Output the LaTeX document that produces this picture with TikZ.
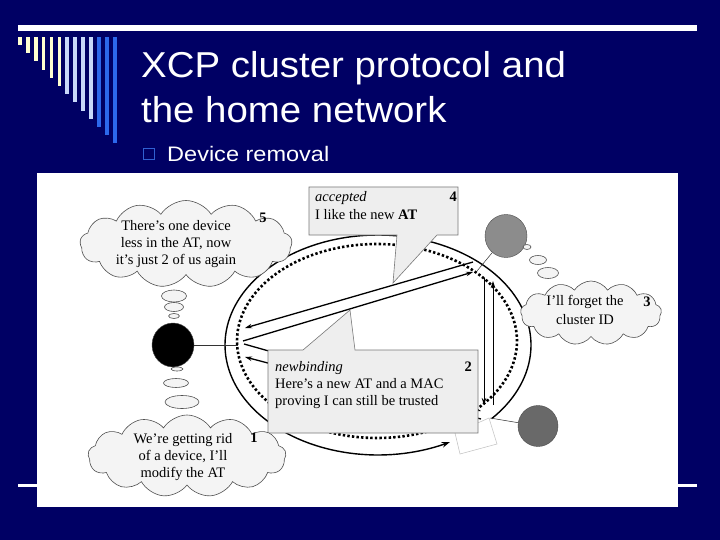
\documentclass[tikz,border=0pt]{standalone}
\usepackage{graphicx}
\usepackage{fontspec}
\setmainfont{Liberation Serif}
\newfontfamily\titlefont{Liberation Sans}
\usetikzlibrary{shapes.symbols,shapes.geometric,arrows.meta}
\definecolor{slidebg}{RGB}{0,0,100}
\definecolor{cream}{RGB}{255,255,208}
\definecolor{paleblue}{RGB}{200,216,250}
\definecolor{barblue}{RGB}{44,104,236}
\definecolor{bulletblue}{RGB}{48,96,210}
\definecolor{cloudfill}{RGB}{244,244,244}
\definecolor{cloudline}{RGB}{80,80,80}
\definecolor{boxfill}{RGB}{238,238,238}
\definecolor{boxline}{RGB}{120,120,120}
\definecolor{grayup}{RGB}{140,140,140}
\definecolor{graylow}{RGB}{105,105,105}
\begin{document}
\begin{tikzpicture}[x=1pt,y=-1pt,
  txt/.style={font=\fontsize{14.5}{17}\selectfont, inner sep=0pt},
  num/.style={font=\fontsize{14.5}{17}\selectfont\bfseries, inner sep=0pt},
  thought/.style={cloud, cloud puffs=13, cloud puff arc=115, cloud ignores aspect, draw=cloudline, fill=cloudfill, line width=0.6pt, inner sep=0pt},
  bubble/.style={ellipse, draw=cloudline, fill=cloudfill, line width=0.6pt, inner sep=0pt},
  callout/.style={draw=boxline, fill=boxfill, line width=0.6pt},
  msg/.style={line width=1.3pt, -{Stealth[length=7pt,width=4.5pt]}},
  link/.style={line width=0.5pt, draw=black!80},
  device/.style={ellipse, inner sep=0pt, draw=black!70, line width=0.4pt},
  ring/.style={line width=1.4pt},
  dots/.style={line width=2.6pt, dash pattern=on 2.4pt off 2.2pt}
]
\useasboundingbox (0,0) rectangle (720,540);
% slide template
\fill[slidebg] (0,0) rectangle (720,540);
\fill[white] (18,25) rectangle (697,31);
\foreach \i/\c in {0/cream,1/cream,2/cream,3/cream,4/cream,5/cream,6/paleblue,7/paleblue,8/paleblue,9/paleblue,10/barblue,11/barblue,12/barblue}
  \fill[\c] ({18+7.9*\i},37) rectangle ({21.7+7.9*\i},{45+8.2*\i});
\node[anchor=base west, inner sep=0pt, text=white, font=\titlefont\fontsize{36}{43}\selectfont] (t1) at (141,77.5) {\scalebox{1.067}[1]{XCP cluster protocol and}};
\node[anchor=base west, inner sep=0pt, text=white, font=\titlefont\fontsize{36}{43}\selectfont] (t2) at (141,122.5) {\scalebox{1.067}[1]{the home network}};
\node[draw=bulletblue, line width=1.6pt, minimum size=11pt, inner sep=0pt] (bul) at (149,154) {};
\node[anchor=base west, inner sep=0pt, text=white, font=\titlefont\fontsize{21}{25}\selectfont] (sub) at (167,161.5) {\scalebox{1.12}[1]{Device removal}};
\fill[white] (18,484) rectangle (697,486.5);
% diagram area
\fill[white] (37,173) rectangle (678,507);

% faded removed device
\draw[black!25, line width=0.5pt] (455,433) -- (460,454) -- (497,444) -- (489,418) -- cycle;

% rings
\draw[ring, {Stealth[length=8pt,width=5.5pt]}-] plot[domain=-298:42, samples=150] ({378+153*cos(\x)},{345+110*sin(\x)});
\draw[dots] plot[domain=-293:43, samples=150] ({377+140*cos(\x)},{341+97*sin(\x)});

% message coordinates
\coordinate (m1s) at (473,262); \coordinate (m1e) at (245,328);
\coordinate (m2s) at (243,341); \coordinate (m2e) at (473,272);
\coordinate (m3s) at (244,344); \coordinate (m3e) at (481,411);
\coordinate (m4s) at (481,419); \coordinate (m4e) at (245,357);
\coordinate (v1s) at (484,278); \coordinate (v1e) at (484,405);
\coordinate (v2s) at (493,405); \coordinate (v2e) at (493,281);
\draw[msg] (m1s) -- (m1e);
\draw[msg] (m2s) -- (m2e);
\draw[msg] (m3s) -- (m3e);
\draw[msg] (m4s) -- (m4e);
\draw[msg, line width=0.9pt] (v1s) -- (v1e);
\draw[msg, line width=0.9pt] (v2s) -- (v2e);

% devices
\node[device, fill=black, minimum width=42pt, minimum height=44pt] (blk) at (173,345) {};
\node[device, fill=grayup, minimum width=42pt, minimum height=43pt] (up) at (506,236) {};
\node[device, fill=graylow, minimum width=40pt, minimum height=41pt] (low) at (538,426) {};
\coordinate (bJ) at (238,345);
\coordinate (uJ) at (477,271);
\coordinate (lJ) at (490,418);
\draw[link] (blk) -- (bJ);
\draw[link] (up) -- (uJ);
\draw[link] (low) -- (lJ);

% callout 4
\draw[callout] (309,187) -- (458,187) -- (458,235) -- (437,235) -- (393,283) -- (397,235) -- (309,235) -- cycle;
\node[txt, anchor=base west] (acc) at (315,202) {\itshape accepted};
\node[txt, anchor=base west] (like) at (315,219) {I like the new \textbf{AT}};
\node[num, anchor=base east] (n4) at (457,202) {4};

% callout 2
\draw[callout] (268,350) -- (303,350) -- (350,310) -- (355,350) -- (478,350) -- (478,433) -- (268,433) -- cycle;
\node[txt, anchor=base west] (nb) at (275,371) {\itshape newbinding};
\node[txt, anchor=base west] (here) at (275,388) {Here's a new AT and a MAC};
\node[txt, anchor=base west] (prov) at (275,405) {proving I can still be trusted};
\node[num, anchor=base east] (n2) at (472,371) {2};

% thought clouds
\node[thought, minimum width=212pt, minimum height=87pt] (c5) at (186,244) {};
\node[txt, align=center] (c5t) at (176,244) {There's one device\\less in the AT, now\\it's just 2 of us again};
\node[num] (n5) at (263,218) {5};

\node[thought, minimum width=141pt, minimum height=64pt] (c3) at (591,313) {};
\node[txt, align=center, font=\fontsize{14.5}{19}\selectfont] (c3t) at (585,310) {I'll forget the\\cluster ID};
\node[num] (n3) at (647,302) {3};

\node[thought, minimum width=198pt, minimum height=82pt] (c1) at (187,456) {};
\node[txt, align=center] (c1t) at (183,457) {We're getting rid\\of a device, I'll\\modify the AT};
\node[num] (n1) at (254,438) {1};

% thought bubbles
\node[bubble, minimum width=25pt, minimum height=12pt] (b51) at (174,296) {};
\node[bubble, minimum width=19pt, minimum height=9pt] (b52) at (174,307) {};
\node[bubble, minimum width=11pt, minimum height=5pt] (b53) at (174,316) {};
\node[bubble, minimum width=12pt, minimum height=4pt] (b11) at (177,369) {};
\node[bubble, minimum width=25pt, minimum height=9pt] (b12) at (176,383) {};
\node[bubble, minimum width=34pt, minimum height=13pt] (b13) at (182,402) {};
\node[bubble, minimum width=8pt, minimum height=5pt] (b31) at (527,247) {};
\node[bubble, minimum width=17pt, minimum height=9pt] (b32) at (538,260) {};
\node[bubble, minimum width=21pt, minimum height=11pt] (b33) at (548,273) {};
\end{tikzpicture}
\end{document}
